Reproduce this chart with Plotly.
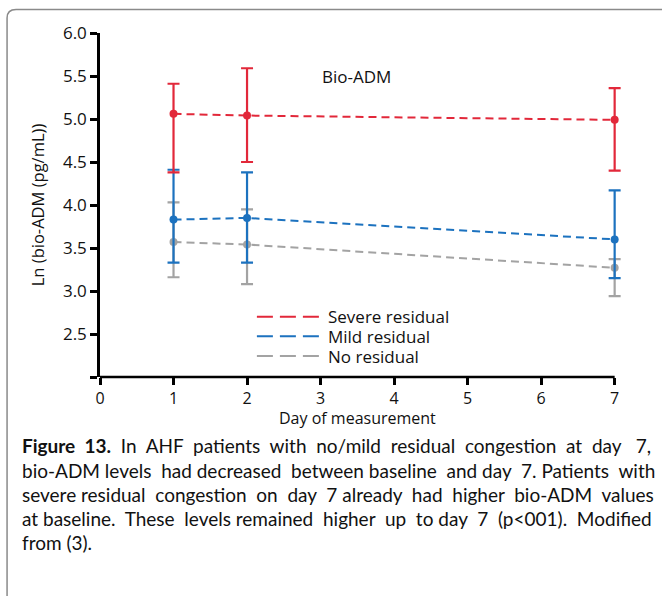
import plotly.graph_objects as go

# ---- data ----
days = [1, 2, 7]
groups = ["Severe residual", "Mild residual", "No residual"]
severe_mean = [5.06, 5.04, 4.99]
severe_upper = [5.41, 5.59, 5.36]
severe_lower = [4.38, 4.50, 4.40]
mild_mean = [3.83, 3.85, 3.60]
mild_upper = [4.41, 4.38, 4.17]
mild_lower = [3.33, 3.33, 3.15]
none_mean = [3.57, 3.54, 3.27]
none_upper = [4.03, 3.95, 3.37]
none_lower = [3.16, 3.08, 2.94]
x_ticks = [0, 1, 2, 3, 4, 5, 6, 7]
y_ticks = [2.0, 2.5, 3.0, 3.5, 4.0, 4.5, 5.0, 5.5, 6.0]
y_ticklabels = ["", "2.5", "3.0", "3.5", "4.0", "4.5", "5.0", "5.5", "6.0"]
x_title = "Day of measurement"
y_title = "Ln (bio-ADM (pg/mL))"
panel_label = "Bio-ADM"
caption_lines = [
    "<b>Figure 13.</b> In AHF patients with no/mild residual congestion at day 7,",
    "bio-ADM levels had decreased between baseline and day 7. Patients with",
    "severe residual congestion on day 7 already had higher bio-ADM values",
    "at baseline. These levels remained higher up to day 7 (p<001). Modified",
    "from (3).",
]

# ---- styles ----
colors = {"Severe residual": "#e2283a", "Mild residual": "#1c72bf", "No residual": "#a3a3a3"}
W, H = 662, 596
X_END = 7.1                       # a little room so the day-7 caps are not clipped
L, T, B = 100, 33, 219
UNIT = (615 - L) / 7.0
R = W - (L + UNIT * X_END)
cap_extra = [12, 5, 8, 8, 0]      # extra non-breaking spaces used to justify the caption
CAP_SIZE = 19


def px(xp):
    return (xp - L) / (W - L - R)


def py(yp):
    return (H - B - yp) / (H - T - B)


def justify(text, extra):
    parts = text.split(" ")
    gaps = len(parts) - 1
    if gaps <= 0 or extra <= 0:
        return text
    out = parts[0]
    for i in range(gaps):
        n = extra * (i + 1) // gaps - extra * i // gaps
        out += " " + "\u00a0" * n + parts[i + 1]
    return out


series = {
    "Severe residual": (severe_mean, severe_upper, severe_lower),
    "Mild residual": (mild_mean, mild_upper, mild_lower),
    "No residual": (none_mean, none_upper, none_lower),
}

fig = go.Figure()
for name in ["No residual", "Mild residual", "Severe residual"]:
    m, u, lo = series[name]
    fig.add_trace(go.Scatter(
        x=days, y=m, mode="lines+markers", name=name,
        line=dict(color=colors[name], width=2, dash="8px,5px"),
        marker=dict(color=colors[name], size=8),
        error_y=dict(type="data", symmetric=False,
                     array=[a - b for a, b in zip(u, m)],
                     arrayminus=[b - c for b, c in zip(m, lo)],
                     color=colors[name], thickness=2.2, width=6),
        cliponaxis=False, showlegend=False,
    ))

font_axis = dict(family="Open Sans, sans-serif", size=16, color="#111")
fig.update_layout(
    width=W, height=H, margin=dict(l=L, r=R, t=T, b=B, autoexpand=False),
    plot_bgcolor="white", paper_bgcolor="white",
    font=font_axis,
    xaxis=dict(range=[0, X_END], tickvals=x_ticks, ticks="outside", ticklen=7,
               tickwidth=2.5, tickcolor="black", showline=False,
               showgrid=False, zeroline=False,
               tickfont=dict(size=16)),
    yaxis=dict(range=[2, 6], tickvals=y_ticks, ticktext=y_ticklabels, ticks="outside",
               ticklen=7, tickwidth=2.5, tickcolor="black", showline=True,
               linecolor="black", linewidth=2.5, showgrid=False, zeroline=False,
               tickfont=dict(size=17),
               title=dict(text=y_title, standoff=15, font=dict(size=16.5))),
)

ann = [
    dict(x=px(357), y=py(76), xref="paper", yref="paper", text=panel_label,
         showarrow=False, font=dict(size=17), xanchor="center", yanchor="middle"),
    dict(x=px(358), y=py(418), xref="paper", yref="paper", text=x_title,
         showarrow=False, font=dict(size=16), xanchor="center", yanchor="middle"),
]

shapes = [
    # x axis line, ending at day 7
    dict(type="line", xref="x", yref="paper", x0=0, x1=7, y0=0, y1=0,
         line=dict(color="black", width=2.5)),
]

# custom legend
leg_y = [316.7, 336.3, 356.0]
for name, yy in zip(groups, leg_y):
    shapes.append(dict(type="line", xref="paper", yref="paper",
                       x0=px(257), x1=px(320), y0=py(yy), y1=py(yy),
                       line=dict(color=colors[name], width=2, dash="16px,7px")))
    ann.append(dict(x=px(326), y=py(yy), xref="paper", yref="paper", text=name,
                    showarrow=False, xanchor="left", yanchor="middle",
                    font=dict(size=17)))

# caption
cap_y = [446, 470, 494, 518, 542]
for line, yy, ex in zip(caption_lines, cap_y, cap_extra):
    ann.append(dict(x=px(20), y=py(yy), xref="paper", yref="paper", text=justify(line, ex),
                    showarrow=False, xanchor="left", yanchor="middle",
                    font=dict(family="Lato, sans-serif", size=CAP_SIZE, color="#111")))

# frame
frame = (f"M {px(7)},{py(600)} L {px(7)},{py(18)} "
         f"Q {px(7)},{py(9.5)} {px(16)},{py(9.5)} L {px(665)},{py(9.5)}")
shapes.append(dict(type="path", xref="paper", yref="paper", path=frame,
                   line=dict(color="#8a8a8a", width=1.5)))

fig.update_layout(annotations=ann, shapes=shapes)
fig.write_html("out.html")
